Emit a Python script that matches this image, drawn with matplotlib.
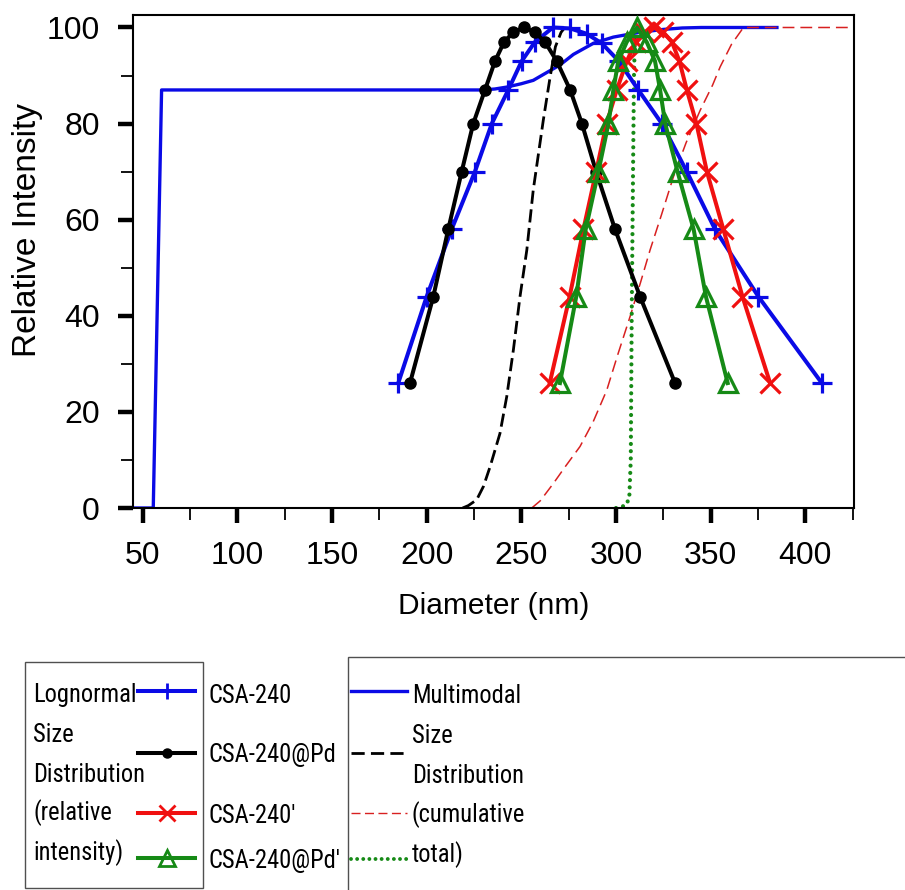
import matplotlib
matplotlib.use("Agg")
import matplotlib.pyplot as plt
from matplotlib.lines import Line2D
from matplotlib.patches import Rectangle
from matplotlib import font_manager
from matplotlib.ticker import MultipleLocator

# ---------------- data ----------------
csa240_x = [185, 200, 213.2, 225.5, 234.4, 243.1, 250.2, 257.2, 266.7, 275.8,
            284.5, 292.5, 301.5, 311.8, 324.2, 337.4, 352.3, 375.2, 408.7]
csa240_y = [26, 44, 58, 70, 80, 87, 93, 97, 100, 99.8,
            98.7, 96.7, 93, 87, 80, 70, 58, 44, 26]

csa240pd_x = [191.2, 203.5, 211.4, 218.5, 224.6, 230.8, 236.1, 240.9, 245.8, 251.4,
              257.2, 262.5, 268.7, 275.8, 282.0, 289.5, 299.5, 312.7, 331.2]
csa240pd_y = [26, 44, 58, 70, 80, 87, 93, 97, 99, 100,
              99, 97, 93, 87, 80, 70, 58, 44, 26]

csa240p_x = [265, 275.5, 282.8, 289.5, 295, 300.4, 305.7, 310.5, 315, 320,
             325, 329.5, 333.5, 337.4, 342.5, 348, 356.7, 366.8, 381.4]
csa240p_y = [26, 44, 58, 70, 80, 87, 93, 97, 99, 100,
             99, 97, 93, 87, 80, 70, 58, 44, 26]

csa240pdp_x = [270.4, 279.0, 284.0, 290.7, 296.0, 298.6, 301.2, 305.7, 311.0,
               316.2, 320.6, 323.3, 326.0, 332.5, 341.0, 347.5, 359.0]
csa240pdp_y = [26, 44, 58, 70, 80, 87, 93, 97, 100,
               97, 93, 87, 80, 70, 58, 44, 26]

# multimodal cumulative totals
cum240_x = [44.9, 55.6, 60, 229, 236, 242.3, 250, 256.3, 262, 270.4, 277.5,
            288, 298.6, 312.6, 325, 335, 345, 385]
cum240_y = [0, 0, 87, 87, 87.2, 87.6, 88.3, 89, 90.3, 92.2, 94.4,
            96.7, 98, 99, 99.6, 99.9, 100, 100]

cum240pd_x = [219, 222, 226.4, 230, 233.5, 238.7, 242.3, 245.8, 249.3, 252.9,
              256.3, 261.6, 265.2, 268, 271, 273]
cum240pd_y = [0, 0.5, 1.7, 4.5, 8.6, 15.5, 23.2, 32.9, 44, 53.7,
              66.2, 80.7, 89.7, 96, 99, 100]

cum240p_x = [218, 255.5, 260, 266.9, 273, 281, 288, 295.1, 301, 307.4, 313, 318,
             324, 330.3, 337, 344.5, 351, 355, 361, 367.3, 380, 425.7]
cum240p_y = [0, 0, 1.5, 5.1, 8.5, 12.8, 18, 24.5, 32, 39.8, 47, 53.7,
             61, 68.9, 76, 82.8, 88, 91.8, 96.5, 100, 100, 100]

cum240pdp_x = [300, 305, 307, 307.8, 308.3, 309, 309.5, 310, 310.5]
cum240pdp_y = [0, 0.5, 2, 10, 40, 70, 90, 98, 100]

x_ticks = [50, 100, 150, 200, 250, 300, 350, 400]
y_ticks = [0, 20, 40, 60, 80, 100]

series_labels = ["CSA-240", "CSA-240@Pd", "CSA-240'", "CSA-240@Pd'"]
left_title = ["Lognormal", "Size", "Distribution", "(relative", "intensity)"]
right_title = ["Multimodal", "Size", "Distribution", "(cumulative", "total)"]

# ---------------- style ----------------
plt.rcParams['font.family'] = ['Liberation Sans', 'DejaVu Sans']
plt.rcParams['lines.scale_dashes'] = False

BLUE = "#0a0ae6"
BLACK = "#000000"
RED = "#f01010"
GREEN = "#168a16"
DRED = "#d82020"


def pick_condensed():
    prefs = ['liberation sans narrow', 'arial narrow', 'open sans condensed',
             'roboto condensed', 'noto sans condensed', 'noto sans',
             'open sans', 'roboto', 'dejavu sans condensed', 'dejavu sans']
    cands = []
    for f in font_manager.fontManager.ttflist:
        nm = f.name.lower()
        fn = f.fname.lower()
        narrow = ('narrow' in nm or 'condensed' in nm or 'narrow' in fn
                  or 'condensed' in fn or str(f.stretch) in
                  ('condensed', 'semi-condensed', 'extra-condensed', '75', '87.5', '62.5'))
        bold = any(k in fn for k in ('bold', 'black', 'light', 'thin', 'medium',
                                     'semibold', 'extrabold', 'italic', 'oblique'))
        if narrow and not bold and f.style == 'normal':
            cands.append(f)
    best = None
    for p in prefs:
        for f in cands:
            if f.name.lower().startswith(p):
                best = f
                break
        if best:
            break
    if best is None and cands:
        best = cands[0]
    return best.fname if best else None


W, H = 905, 890
fig = plt.figure(figsize=(W / 100, H / 100), dpi=100)
L, R, T, B = 133, 854, 15, 508
ax = fig.add_axes([L / W, 1 - B / H, (R - L) / W, (B - T) / H])

cond = pick_condensed()
if cond:
    leg_fp = font_manager.FontProperties(fname=cond)
else:
    leg_fp = font_manager.FontProperties(family=['Liberation Sans', 'DejaVu Sans'])

# size the legend text so that "CSA-240@Pd'" is ~132 px wide, cap height <= ~22 px
renderer = fig.canvas.get_renderer()
probe = fig.text(0, 0, "CSA-240@Pd'", fontproperties=leg_fp, fontsize=20)
wpx = probe.get_window_extent(renderer).width
probe.remove()
LEG_SIZE = min(20 * 132.0 / wpx, 22.0)
leg_fp.set_size(LEG_SIZE)

ax.set_xlim(44.9, 425.7)
ax.set_ylim(0, 102.6)

lw = 2.9
ax.plot(cum240_x, cum240_y, color=BLUE, lw=2.4, zorder=2)
ax.plot(csa240_x, csa240_y, color=BLUE, lw=lw, marker='+', ms=14, mew=2.3, zorder=3)
ax.plot(csa240pd_x, csa240pd_y, color=BLACK, lw=lw, marker='o', ms=8, zorder=3)
ax.plot(csa240p_x, csa240p_y, color=RED, lw=lw, marker='x', ms=14, mew=2.3, zorder=3)
ax.plot(csa240pdp_x, csa240pdp_y, color=GREEN, lw=lw, marker='^', ms=13, mew=2.3,
        mfc='none', mec=GREEN, zorder=4)
l1, = ax.plot(cum240pd_x, cum240pd_y, color=BLACK, lw=2.0, zorder=2)
l1.set_dashes([9.5, 4.0])
l2, = ax.plot(cum240p_x, cum240p_y, color=DRED, lw=1.1, zorder=2)
l2.set_dashes([8.5, 4.3])
l3, = ax.plot(cum240pdp_x, cum240pdp_y, color=GREEN, lw=3.0, zorder=2,
              dash_capstyle='round')
l3.set_dashes([0.01, 5.2])

for s in ax.spines.values():
    s.set_linewidth(1.5)

ax.set_xticks(x_ticks)
ax.set_yticks(y_ticks)
ax.xaxis.set_minor_locator(MultipleLocator(25))
ax.yaxis.set_minor_locator(MultipleLocator(10))
ax.tick_params(which='major', direction='out', length=11, width=3.2, labelsize=23)
ax.tick_params(axis='x', which='major', pad=13)
ax.tick_params(axis='y', which='major', pad=13)
ax.tick_params(which='minor', direction='out', length=8.5, width=1.3)
ax.set_xlabel("Diameter (nm)", fontsize=21.5)
ax.set_ylabel("Relative Intensity", fontsize=24)
ax.xaxis.set_label_coords(0.5, -(592 - B) / (B - T))
ax.yaxis.set_label_coords(-(133 - 43) / (R - L), (B - 230) / (B - T))


# ---------------- legend (drawn in figure pixel coords) ----------------
def fx(px):
    return px / W


def fy(py):
    return 1 - py / H


BOXC = "#505050"
fig.patches.append(Rectangle((fx(25), fy(888)), fx(203) - fx(25), fy(662) - fy(888),
                             transform=fig.transFigure, fill=False, ec=BOXC, lw=1.0))
fig.patches.append(Rectangle((fx(348), fy(895)), fx(910) - fx(348), fy(657) - fy(895),
                             transform=fig.transFigure, fill=False, ec=BOXC, lw=1.0,
                             clip_on=False))

left_base = [701.7, 741.7, 781.7, 820, 860]
right_base = [703.3, 743.3, 783.3, 821.7, 861.7]
lab_base = [703.3, 761.7, 823, 868]
row_y = [691, 752.7, 812.7, 858]

for t, b in zip(left_title, left_base):
    fig.text(fx(33), fy(b), t, fontproperties=leg_fp, va='baseline', ha='left')
for t, b in zip(right_title, right_base):
    fig.text(fx(411.7), fy(b), t, fontproperties=leg_fp, va='baseline', ha='left')
for t, b in zip(series_labels, lab_base):
    fig.text(fx(208), fy(b), t, fontproperties=leg_fp, va='baseline', ha='left')

mk = [dict(color=BLUE, marker='+', ms=12, mew=2.0),
      dict(color=BLACK, marker='o', ms=6.5),
      dict(color=RED, marker='x', ms=12, mew=2.0),
      dict(color=GREEN, marker='^', ms=11, mew=2.0, mfc='none', mec=GREEN)]
for y, kw in zip(row_y, mk):
    fig.add_artist(Line2D([fx(138), fx(195)], [fy(y), fy(y)], lw=lw,
                          transform=fig.transFigure, markevery=[], **kw))
    fig.add_artist(Line2D([fx(166.5)], [fy(y)], lw=0, transform=fig.transFigure, **kw))

rl = [Line2D([fx(351), fx(407)], [fy(row_y[0])] * 2, color=BLUE, lw=2.4,
             transform=fig.transFigure),
      Line2D([fx(351), fx(407)], [fy(row_y[1])] * 2, color=BLACK, lw=2.0,
             transform=fig.transFigure),
      Line2D([fx(351), fx(407)], [fy(row_y[2])] * 2, color=DRED, lw=1.0,
             transform=fig.transFigure),
      Line2D([fx(351), fx(407)], [fy(row_y[3] + 0.5)] * 2, color=GREEN, lw=2.8,
             transform=fig.transFigure, dash_capstyle='round')]
rl[1].set_dashes([9.5, 4.5])
rl[2].set_dashes([6.5, 3.2])
rl[3].set_dashes([0.01, 4.4])
for a in rl:
    fig.add_artist(a)

fig.savefig("out.png", dpi=100)
